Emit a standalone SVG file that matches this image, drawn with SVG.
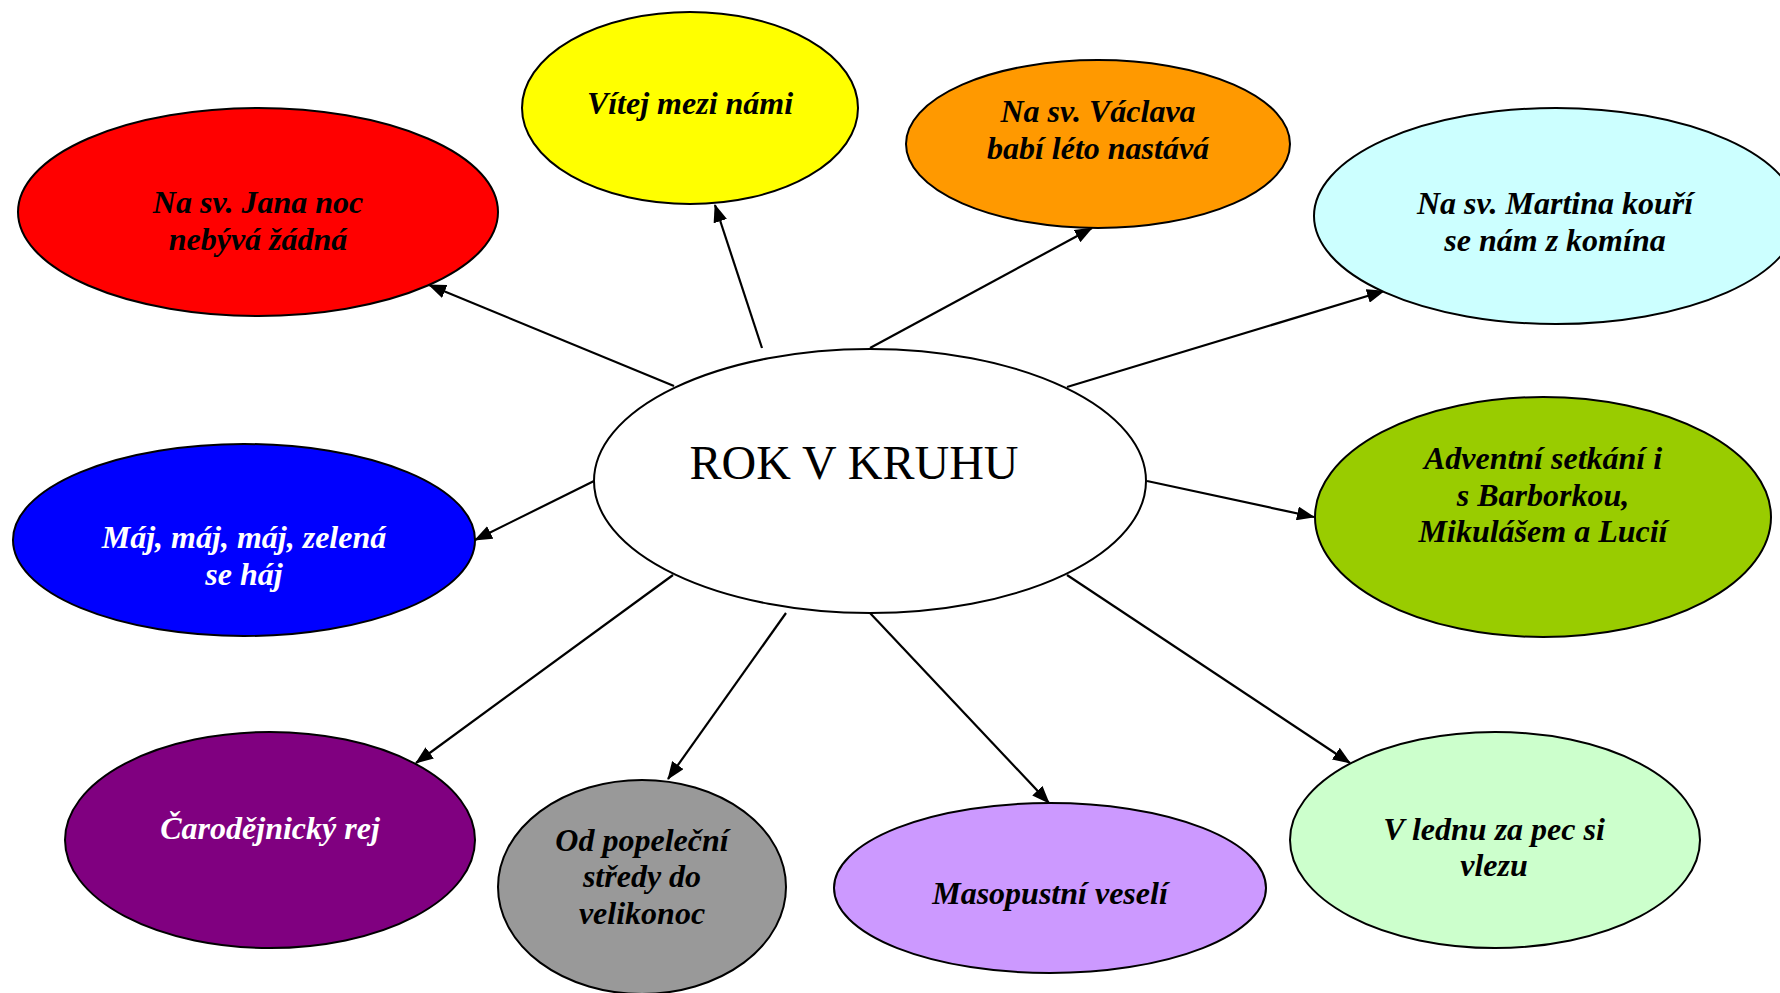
<svg xmlns="http://www.w3.org/2000/svg" width="1780" height="993" viewBox="0 0 1780 993">
<style>
.n{stroke:#000;stroke-width:2}
.t{font-family:"Liberation Serif","Times New Roman",serif;font-weight:bold;font-style:italic;font-size:32px;text-anchor:middle;fill:#000}
.w{fill:#fff}
.c{font-family:"Liberation Serif","Times New Roman",serif;font-size:48px;text-anchor:middle;fill:#000}
.e{stroke:#000;stroke-width:2.2;fill:none;marker-end:url(#ah)}
</style>
<defs>
<marker id="ah" markerUnits="userSpaceOnUse" markerWidth="18" markerHeight="14" viewBox="0 0 18 14" refX="17" refY="7" orient="auto">
<path d="M0,0 L18,7 L0,14 Z" fill="#000"/>
</marker>
</defs>
<rect width="1780" height="993" fill="#fff"/>
<g id="connectors">
<line class="e" x1="674" y1="386" x2="429" y2="285"/>
<line class="e" x1="762" y1="348" x2="715" y2="205"/>
<line class="e" x1="870" y1="348" x2="1092" y2="228"/>
<line class="e" x1="1067" y1="387" x2="1384" y2="291"/>
<line class="e" x1="1147" y1="481" x2="1314" y2="517"/>
<line class="e" x1="594" y1="481" x2="475" y2="540"/>
<line class="e" x1="673" y1="575" x2="416" y2="763"/>
<line class="e" x1="786" y1="613" x2="668" y2="779"/>
<line class="e" x1="870" y1="613" x2="1049" y2="803"/>
<line class="e" x1="1067" y1="575" x2="1350" y2="763"/>
</g>
<g id="center">
<ellipse class="n" cx="870" cy="481" rx="276" ry="132" fill="#fff"/>
<text class="c" x="854" y="479">ROK V KRUHU</text>
</g>
<g id="n-vitej">
<ellipse class="n" cx="690" cy="108" rx="168" ry="96" fill="#FFFF00"/>
<text class="t" x="690" y="114">Vítej mezi námi</text>
</g>
<g id="n-jan">
<ellipse class="n" cx="258" cy="212" rx="240" ry="104" fill="#FF0000"/>
<text class="t" x="258" y="213">Na sv. Jana noc</text>
<text class="t" x="258" y="250">nebývá žádná</text>
</g>
<g id="n-vaclav">
<ellipse class="n" cx="1098" cy="144" rx="192" ry="84" fill="#FF9900"/>
<text class="t" x="1098" y="122">Na sv. Václava</text>
<text class="t" x="1098" y="159">babí léto nastává</text>
</g>
<g id="n-martin">
<ellipse class="n" cx="1556" cy="216" rx="242" ry="108" fill="#CCFFFF"/>
<text class="t" x="1555" y="214">Na sv. Martina kouří</text>
<text class="t" x="1555" y="251">se nám z komína</text>
</g>
<g id="n-advent">
<ellipse class="n" cx="1543" cy="517" rx="228" ry="120" fill="#99CC00"/>
<text class="t" x="1543" y="469">Adventní setkání i</text>
<text class="t" x="1543" y="506">s Barborkou,</text>
<text class="t" x="1543" y="542">Mikulášem a Lucií</text>
</g>
<g id="n-maj">
<ellipse class="n" cx="244" cy="540" rx="231" ry="96" fill="#0000FF"/>
<text class="t w" x="244" y="548">Máj, máj, máj, zelená</text>
<text class="t w" x="244" y="585">se háj</text>
</g>
<g id="n-carodej">
<ellipse class="n" cx="270" cy="840" rx="205" ry="108" fill="#800080"/>
<text class="t w" x="270" y="839">Čarodějnický rej</text>
</g>
<g id="n-popelec">
<ellipse class="n" cx="642" cy="887" rx="144" ry="107" fill="#999999"/>
<text class="t" x="642" y="851">Od popeleční</text>
<text class="t" x="642" y="887">středy do</text>
<text class="t" x="642" y="924">velikonoc</text>
</g>
<g id="n-masopust">
<ellipse class="n" cx="1050" cy="888" rx="216" ry="85" fill="#CC99FF"/>
<text class="t" x="1050" y="904">Masopustní veselí</text>
</g>
<g id="n-leden">
<ellipse class="n" cx="1495" cy="840" rx="205" ry="108" fill="#CCFFCC"/>
<text class="t" x="1494" y="840">V lednu za pec si</text>
<text class="t" x="1494" y="876">vlezu</text>
</g>
</svg>
